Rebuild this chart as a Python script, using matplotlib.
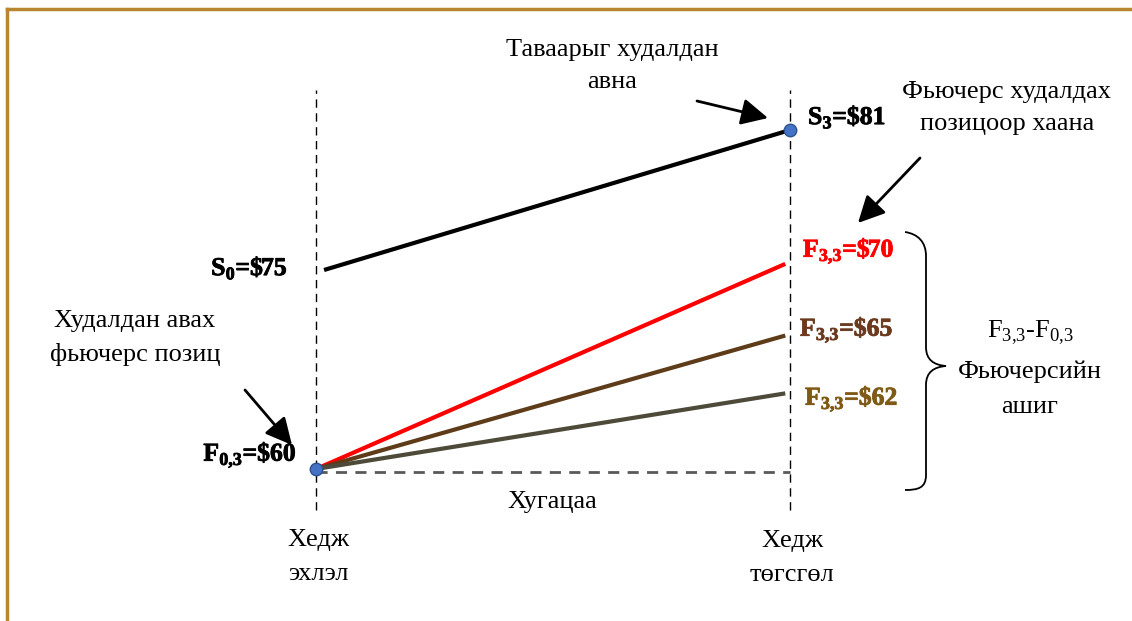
import numpy as np
import matplotlib
matplotlib.use("Agg")
import matplotlib.pyplot as plt
from matplotlib.path import Path
from matplotlib.patches import PathPatch
import matplotlib.patheffects as pe
import matplotlib.transforms as mtransforms

plt.rcParams["font.family"] = ["Liberation Serif", "DejaVu Serif"]
plt.rcParams["mathtext.fontset"] = "custom"
plt.rcParams["mathtext.rm"] = "Liberation Serif"
plt.rcParams["mathtext.bf"] = "Liberation Serif:bold"

# hedge start / hedge end on the time axis
hedge_t = [0.0, 1.0]

# spot price at start and end of the hedge
spot = [75, 81]
# futures price when the short position is opened
f_open = 60
# possible futures prices at the end of the hedge
f_close = [70, 65, 62]
f_line_colors = ["#ff0000", "#5e3c1a", "#4d4a3a"]
f_label_colors = ["#ff0000", "#6b3a1e", "#7f5a14"]

W, H = 1132, 621
fig = plt.figure(figsize=(W / 100, H / 100), dpi=100)


def px(x, y):
    # pixel position -> figure fraction
    return (x / W, 1 - y / H)


# futures axis: compressed scale so the small gaps stay readable
P = 0.62
def fwd(v):
    v = np.asarray(v, dtype=float)
    return np.sign(v - f_open) * np.abs(v - f_open) ** P

def inv(u):
    u = np.asarray(u, dtype=float)
    return f_open + np.sign(u) * np.abs(u) ** (1 / P)

x0_px, x1_px = 316, 790
y_open_px, k_px = 469, 49.2

ax = fig.add_axes([0, 0, 1, 1])
ax.set_yscale("function", functions=(fwd, inv))
ax.set_xlim(-x0_px / (x1_px - x0_px), (W - x0_px) / (x1_px - x0_px))
ax.set_ylim(float(inv(-(H - y_open_px) / k_px)), float(inv(y_open_px / k_px)))
ax.axis("off")

# spot axis: plain linear scale
ax2 = ax.twinx()
s_px0, s_scale = 270, 23.33
ax2.set_ylim(spot[0] - (H - s_px0) / s_scale, spot[0] + s_px0 / s_scale)
ax2.axis("off")

# hedge start / end guides
for t in hedge_t:
    ax.axvline(t, ymin=1 - 510 / H, ymax=1 - 90 / H, color="black", lw=1,
               dashes=(6, 4), zorder=1)

# time baseline just under the opening futures price
base_tr = mtransforms.offset_copy(ax.transData, fig=fig, x=0, y=-3, units="dots")
ax.plot(hedge_t, [f_open, f_open], color="#595959", lw=2, dashes=(4, 3),
        transform=base_tr, zorder=1)

# futures lines
for fc, col in zip(f_close, f_line_colors):
    ax.plot([hedge_t[0], 0.99], [f_open, fc], color=col, lw=3,
            solid_capstyle="butt", zorder=3)

# spot line
ax2.plot([0.017, hedge_t[1]], spot, color="black", lw=3,
         solid_capstyle="butt", zorder=3)

dot = dict(marker="o", ms=9, mfc="#4472c4", mec="#2f528f", mew=1, zorder=5)
ax.plot([hedge_t[0]], [f_open], **dot)
ax2.plot([hedge_t[1]], [spot[1]], **dot)

# value labels
bold = dict(fontsize=18.5, fontweight="bold", va="center")
def heavy(c):
    return [pe.withStroke(linewidth=0.6, foreground=c)]

fig.text(*px(808, 117), r"S$_\mathbf{3}$=\$%d" % spot[1], ha="left",
         color="black", path_effects=heavy("black"), **bold)
fig.text(*px(288, 268), r"S$_\mathbf{0}$=\$%d" % spot[0], ha="right",
         color="black", path_effects=heavy("black"), **bold)
fig.text(*px(297, 455), r"F$_\mathbf{0{,}3}$=\$%d" % f_open, ha="right",
         color="black", path_effects=heavy("black"), **bold)
for fc, col, (lx, ly) in zip(f_close, f_label_colors,
                             [(803, 251), (800, 330), (805, 399)]):
    fig.text(*px(lx, ly), r"F$_\mathbf{3{,}3}$=\$%d" % fc, ha="left",
             color=col, path_effects=heavy(col), **bold)

# notes
reg = dict(fontsize=19, ha="center", va="center", linespacing=1.62,
           color="black")
fig.text(*px(612, 66), "Таваарыг худалдан\nавна", **reg)
fig.text(*px(1007, 108), "Фьючерс худалдах\nпозицоор хаана", **reg)
fig.text(*px(135, 338), "Худалдан авах\nфьючерс позиц", **reg)
fig.text(*px(552, 502), "Хугацаа", **reg)
fig.text(*px(318, 557), "Хедж\nэхлэл", **dict(reg, linespacing=1.66))
fig.text(*px(792, 558), "Хедж\nтөгсгөл", **dict(reg, linespacing=1.66))
fig.text(*px(1030, 368),
         r"F$_{\mathrm{3{,}3}}$-F$_{\mathrm{0{,}3}}$" + "\nФьючерсийн\nашиг",
         **dict(reg, linespacing=1.76))

# arrows
for tail, head in [((697, 101), (768, 118)),
                   ((920, 158), (858, 223)),
                   ((245, 390), (292, 445))]:
    ax.annotate("", xy=px(*head), xytext=px(*tail),
                xycoords="figure fraction", textcoords="figure fraction",
                arrowprops=dict(arrowstyle="-|>,head_length=0.9,head_width=0.45",
                                color="black", lw=2, shrinkA=0, shrinkB=0,
                                mutation_scale=18))

# curly brace
bx = [(905, 232), (918, 234), (926, 242), (926, 256),
      (926, 347),
      (926, 360), (934, 365), (946, 366),
      (934, 367), (926, 372), (926, 385),
      (926, 475),
      (926, 488), (918, 490), (905, 490)]
codes = [Path.MOVETO, Path.CURVE4, Path.CURVE4, Path.CURVE4,
         Path.LINETO,
         Path.CURVE4, Path.CURVE4, Path.CURVE4,
         Path.CURVE4, Path.CURVE4, Path.CURVE4,
         Path.LINETO,
         Path.CURVE4, Path.CURVE4, Path.CURVE4]
brace = Path([px(x, y) for x, y in bx], codes)
fig.add_artist(PathPatch(brace, transform=fig.transFigure, fill=False,
                         lw=1.3, ec="black"))

# page frame
frame = "#b8862e"
fig.add_artist(plt.Line2D([7 / W, 1], [1 - 9 / H, 1 - 9 / H], color=frame,
                          lw=2.5, transform=fig.transFigure))
fig.add_artist(plt.Line2D([7 / W, 7 / W], [0, 1 - 9 / H], color=frame,
                          lw=2.5, transform=fig.transFigure))

fig.savefig("out.png", dpi=100)
